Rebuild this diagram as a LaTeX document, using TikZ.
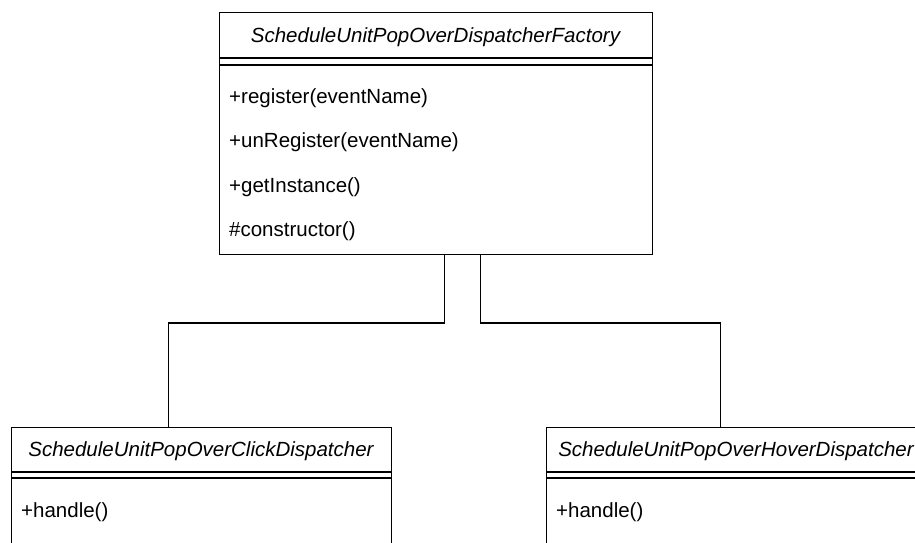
\documentclass[tikz,border=0pt]{standalone}
\usepackage{fontspec}
\setmainfont{Liberation Sans}
\begin{document}
\begin{tikzpicture}[x=1pt,y=1pt,
  every node/.style={font=\fontsize{20.5}{24}\selectfont, inner sep=0pt},
  classbox/.style={draw, line width=1.4pt, anchor=north west, minimum width=#1},
  ttl/.style={font=\fontsize{20.5}{24}\selectfont\itshape},
  member/.style={anchor=west},
  rule/.style={line width=1.4pt},
  conn/.style={line width=1.4pt}]
\clip (0,0) rectangle (915,542);
\fill[white] (0,0) rectangle (915,542);
% factory
\node[classbox=433pt, minimum height=242pt] (fac) at (219,530) {};
\node[ttl] (facT) at (435.5,505) {ScheduleUnitPopOverDispatcherFactory};
\draw[rule] ([yshift=-46pt]fac.north west) -- ([yshift=-46pt]fac.north east);
\draw[rule] ([yshift=-53pt]fac.north west) -- ([yshift=-53pt]fac.north east);
\node[member] (m1) at (229,444) {+register(eventName)};
\node[member] (m2) at (229,400) {+unRegister(eventName)};
\node[member] (m3) at (229,355) {+getInstance()};
\node[member] (m4) at (229,311) {\#constructor()};
% click
\node[classbox=380pt, minimum height=150pt] (click) at (11,115) {};
\node[ttl] (clickT) at (201,91) {ScheduleUnitPopOverClickDispatcher};
\draw[rule] ([yshift=-45pt]click.north west) -- ([yshift=-45pt]click.north east);
\draw[rule] ([yshift=-51pt]click.north west) -- ([yshift=-51pt]click.north east);
\node[member] (c1) at (21,30) {+handle()};
% hover
\node[classbox=380pt, minimum height=150pt] (hover) at (546,115) {};
\node[ttl] (hoverT) at (736,91) {ScheduleUnitPopOverHoverDispatcher};
\draw[rule] ([yshift=-45pt]hover.north west) -- ([yshift=-45pt]hover.north east);
\draw[rule] ([yshift=-51pt]hover.north west) -- ([yshift=-51pt]hover.north east);
\node[member] (h1) at (556,30) {+handle()};
% connectors
\coordinate (bus) at (0,219);
\draw[conn] ([xshift=8.5pt]fac.south) -- ([xshift=8.5pt]fac.south |- bus) -| ([xshift=-33pt]click.north);
\draw[conn] ([xshift=44.5pt]fac.south) -- ([xshift=44.5pt]fac.south |- bus) -| ([xshift=-16pt]hover.north);
\end{tikzpicture}
\end{document}
